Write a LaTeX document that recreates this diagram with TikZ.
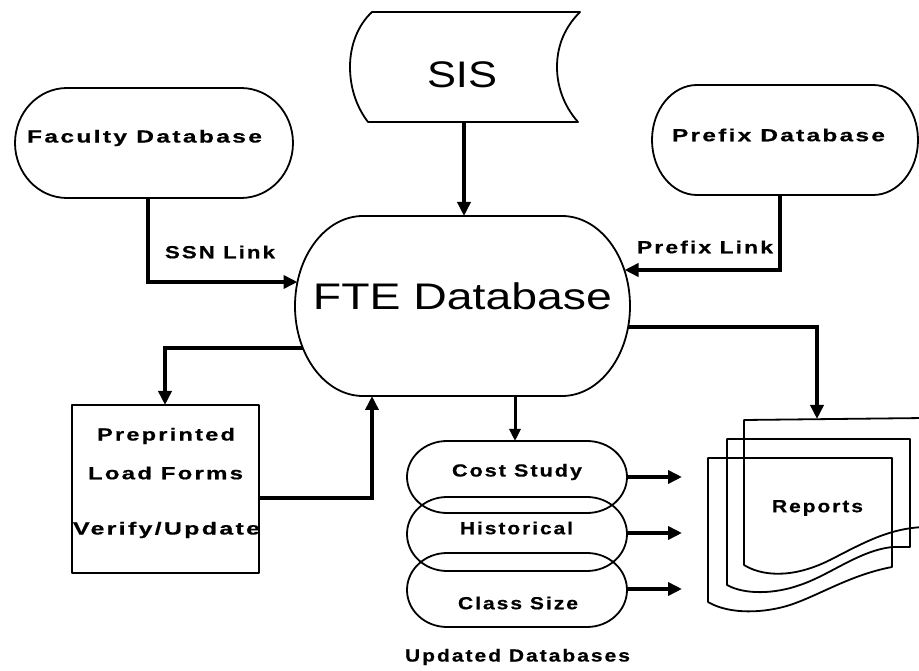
\documentclass[tikz,border=0pt]{standalone}
\usepackage{fontspec}
\setmainfont{Liberation Sans}
\newfontfamily\lblfont[FakeStretch=1.3,LetterSpace=12,FakeBold=0.6]{Liberation Sans Bold}
\newfontfamily\bigfont[FakeStretch=1.2]{Liberation Sans}
\usetikzlibrary{arrows.meta}
\newcommand{\fw}[2]{\resizebox{#1pt}{\height}{#2}}
\tikzset{
  outline/.style={line width=1.8pt, line join=round},
  conn/.style={line width=4pt, -{Triangle[length=14pt,width=13pt]}},
  thinconn/.style={line width=3pt, -{Triangle[length=12pt,width=11pt]}},
  lbl/.style={font=\lblfont\fontsize{17.5}{20}\selectfont, inner sep=0pt},
  big/.style={font=\bigfont\fontsize{37}{42}\selectfont, inner sep=0pt}
}
\begin{document}
\begin{tikzpicture}[x=1pt,y=1pt]
\useasboundingbox (0,0) rectangle (919,670);

% SIS
\draw[outline] (372,658) -- (580,658) .. controls (562,640) and (557,620) .. (557,603)
  .. controls (557,585) and (563,565) .. (578,548) -- (368,548)
  .. controls (355,565) and (350,585) .. (350,603)
  .. controls (350,625) and (358,645) .. (372,658) -- cycle;
\node[big] (sis) at (462,595) {\fw{70}{SIS}};

% FTE Database
\draw[outline] (363,454) -- (562,454) arc[start angle=90,end angle=-90,x radius=68,y radius=90]
  -- (363,274) arc[start angle=270,end angle=90,x radius=68,y radius=90] -- cycle;
\node[big] (fte) at (462.5,373.5) {\fw{299}{FTE Database}};

% Faculty Database
\draw[outline] (67,582) -- (241,582) arc[start angle=90,end angle=-90,x radius=52,y radius=55]
  -- (67,472) arc[start angle=270,end angle=90,x radius=52,y radius=55] -- cycle;
\node[lbl] (fac) at (144.5,532) {\fw{235}{Faculty Database}};

% Prefix Database
\draw[outline] (697,585) -- (873,585) arc[start angle=90,end angle=-90,x radius=45,y radius=55]
  -- (697,475) arc[start angle=270,end angle=90,x radius=45,y radius=55] -- cycle;
\node[lbl] (pre) at (778.5,535) {\fw{213}{Prefix Database}};

% Preprinted box
\draw[outline] (72,97) rectangle (259,265);
\node[lbl] (pp1) at (166,234) {\fw{138}{Preprinted}};
\node[lbl] (pp2) at (165.5,197) {\fw{155}{Load Forms}};
\node[lbl] (pp3) at (166.5,140) {\fw{187}{Verify/Update}};

% Updated databases
\draw[outline] (447,229) -- (587,229) arc[start angle=90,end angle=-90,x radius=40,y radius=36]
  -- (447,157) arc[start angle=270,end angle=90,x radius=40,y radius=36] -- cycle;
\draw[outline] (447,173) -- (587,173) arc[start angle=90,end angle=-90,x radius=40,y radius=37]
  -- (447,99) arc[start angle=270,end angle=90,x radius=40,y radius=37] -- cycle;
\draw[outline] (447,117) -- (587,117) arc[start angle=90,end angle=-90,x radius=40,y radius=37]
  -- (447,43) arc[start angle=270,end angle=90,x radius=40,y radius=37] -- cycle;
\node[lbl] (cost) at (517,198) {\fw{130}{Cost Study}};
\node[lbl] (hist) at (516.5,142) {\fw{113}{Historical}};
\node[lbl] (cls) at (518,67) {\fw{120}{Class Size}};
\node[lbl] (upd) at (517.5,13) {\fw{225}{Updated Databases}};

% Reports (three stacked documents)
\draw[outline] (925,252) -- (744,250) -- (744,105)
  .. controls (760,95) and (790,90) .. (830,110)
  .. controls (865,128) and (890,142) .. (925,143);
\draw[outline] (727,231) -- (910,231) -- (910,123) -- (893,123)
  .. controls (860,120) and (830,95) .. (800,85)
  .. controls (775,76) and (745,75) .. (727,85) -- cycle;
\draw[outline] (708,212) -- (892,212) -- (892,103)
  .. controls (850,95) and (820,75) .. (790,65)
  .. controls (765,57) and (730,55) .. (708,68) -- cycle;
\node[lbl] (rep) at (817.5,162) {\fw{91}{Reports}};

% Connector end points
\coordinate (sisOut) at (464,548);
\coordinate (fteInT) at (464,454);
\coordinate (facOut) at (148,472);
\coordinate (fteInL) at (297.5,388);
\coordinate (preOut) at (780,475);
\coordinate (fteInR) at (624.5,400);
\coordinate (fteOutR) at (628,343);
\coordinate (repIn) at (817,251);
\coordinate (fteOutL) at (303,322);
\coordinate (boxIn) at (165,265);
\coordinate (boxOut) at (259,172);
\coordinate (fteInB) at (372,274);
\coordinate (fteOutB) at (515,274);
\coordinate (costIn) at (515,229);
\coordinate (costOut) at (627,193);
\coordinate (histOut) at (627,137);
\coordinate (clsOut) at (627,81);
\coordinate (repA) at (682,193);
\coordinate (repB) at (682,137);
\coordinate (repC) at (682,81);

\draw[conn] (sisOut) -- (fteInT);
\draw[conn] (facOut) |- (fteInL);
\draw[conn] (preOut) |- (fteInR);
\draw[conn] (fteOutR) -| (repIn);
\draw[conn] (fteOutL) -| (boxIn);
\draw[conn] (boxOut) -| (fteInB);
\draw[thinconn] (fteOutB) -- (costIn);
\draw[conn] (costOut) -- (repA);
\draw[conn] (histOut) -- (repB);
\draw[conn] (clsOut) -- (repC);

\node[lbl] (ssn) at (220,418) {\fw{110}{SSN Link}};
\node[lbl] (plink) at (705,423) {\fw{136}{Prefix Link}};
\end{tikzpicture}
\end{document}
